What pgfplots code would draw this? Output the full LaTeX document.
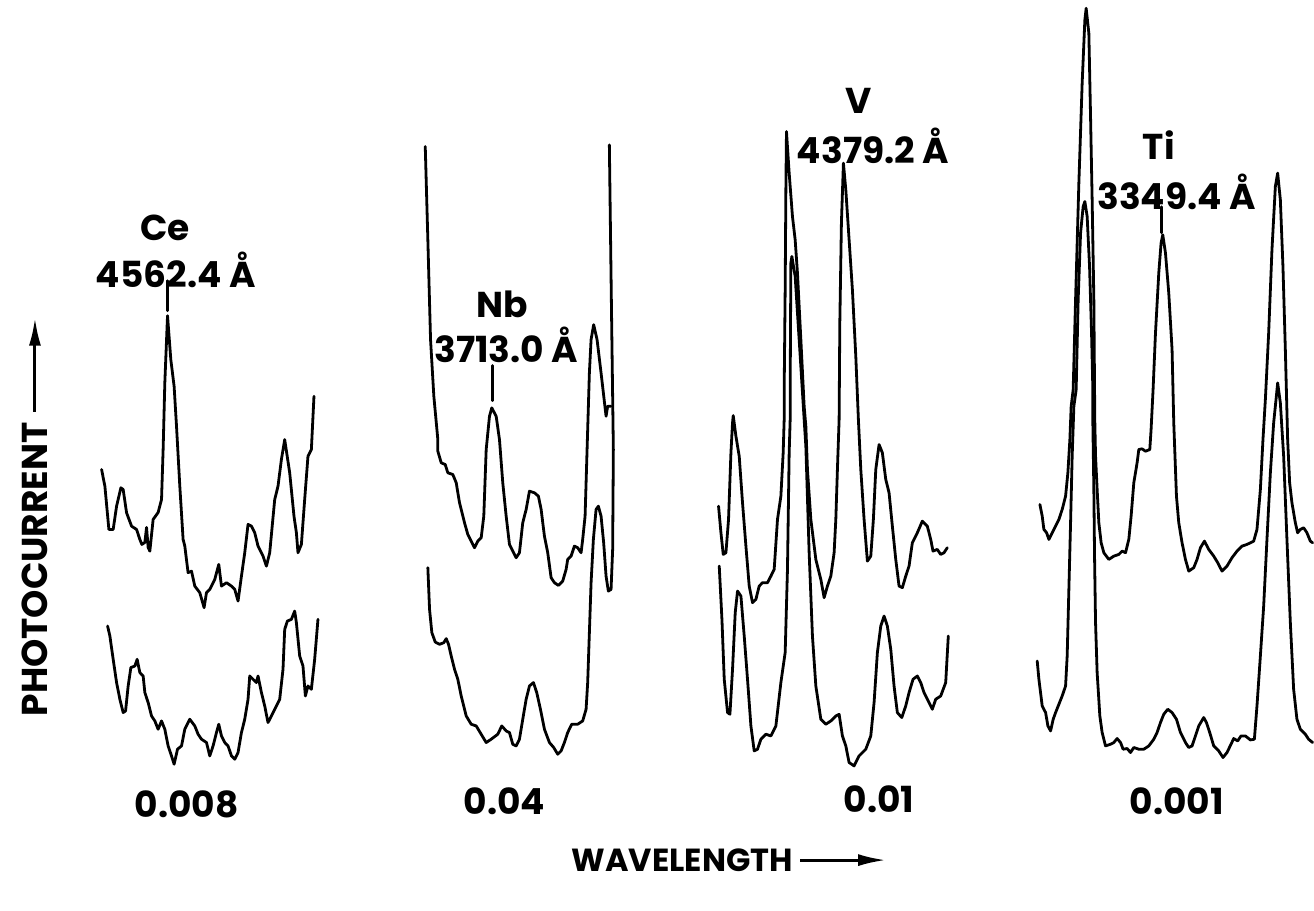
\documentclass[border=0pt]{standalone}
\usepackage{pgfplots}
\pgfplotsset{compat=1.18}
\usepackage{fontspec}
\setmainfont{Poppins}
\usetikzlibrary{arrows.meta}
\begin{document}
\begin{tikzpicture}
\begin{axis}[
  width=657pt, height=455.5pt, scale only axis,
  xmin=0, xmax=1314, ymin=0, ymax=911, y dir=reverse,
  hide axis, clip=false,
  no markers,
  every axis plot post/.append style={black, solid, mark=none, line width=1.4pt, line join=round, line cap=round},
]
% ---------- Ce panel ----------
\addplot coordinates {(101.7,470) (105,486.7) (109,530) (113.3,530) (116.7,506.7) (121,488.3) (123.3,490) (126.7,513.3) (131.7,526.7) (136.7,530) (140,540) (142,545) (145,543) (146.7,528) (148.3,548) (150,551.7) (153.3,520) (158.3,513) (161.7,500) (163.3,450) (165,383) (167.7,316) (171,360) (174.3,386.7) (176.7,426.7) (180,486.7) (183.3,540) (185,546.7) (188.3,573.3) (191.7,571.7) (195,586.7) (200,593.3) (204.3,608.3) (206.7,593.3) (210,590) (215,580) (219,565) (221.7,586.7) (226.7,583.3) (231.7,586.7) (235,590) (238.3,601.7) (241.7,576.7) (245,553.3) (248.3,525) (251.7,526.7) (255,533.3) (258.3,546.7) (263.3,556.7) (266.7,566.7) (270,553.3) (275,500) (278.3,486.7) (281.7,460) (285,440) (290,473.3) (294.3,516.7) (296.7,533.3) (298.3,553.3) (301.7,545) (305,500) (308.3,456.7) (311.7,450) (314.3,396.7)};
\addplot coordinates {(107.7,626.7) (110,636.7) (113.3,660) (116.7,683.3) (120,700) (123.3,713.3) (125.7,711.7) (128.3,686.7) (131,668.3) (135,666.7) (137.3,660) (140,673.3) (143.3,676.7) (145,693.3) (148.3,703.3) (151.7,716.7) (155,721.7) (158.3,730) (161.7,721.7) (165,730) (168.3,746.7) (171.7,756.7) (174.3,765) (177.7,750) (181.7,746.7) (185,730) (190,720) (195,726.7) (198.3,735) (201.7,740) (206.7,743.3) (210,756.7) (213.3,746.7) (216.7,733.3) (219,725) (221.7,736.7) (225,743.3) (228.3,746.7) (231.7,756.7) (235,760) (238.3,753.3) (241.7,733.3) (245,720) (248.3,700) (250,676.7) (253.3,680) (256.7,683.3) (258.3,676.7) (261.7,693.3) (265,706.7) (268.3,723.3) (271.7,716.7) (276.7,706.7) (280,700) (283.3,670) (285,630) (287.7,621.7) (291.7,620) (295,611.7) (296.7,623.3) (300,656.7) (303.3,666.7) (305.7,696.7) (308.3,686.7) (311.7,690) (315,660) (318.3,620)};
\addplot coordinates {(168,281) (168,311)};
% ---------- Nb panel ----------
\addplot coordinates {(425.7,146.7) (428.3,240) (431,340) (434.3,396.7) (438.3,440) (438.3,451.7) (441.7,463.3) (445.7,465) (448.3,473.3) (453.3,475) (456.7,483.3) (460,503.3) (465,523.3) (468.3,535) (471.7,541.7) (475,548.3) (478.3,541.7) (481.7,538.3) (484.3,516.7) (486.7,450) (490,416.7) (492.3,408.3) (496.7,416.7) (500,440) (503.3,483.3) (506.7,516.7) (510,545) (513.3,551.7) (516.7,558.3) (520,553.3) (523.3,523.3) (526.7,510) (530,491.7) (535,493.3) (539,496.7) (541.7,510) (545,536.7) (548.3,553.3) (551.7,578.3) (555,583.3) (559,586) (563.3,581.7) (566.7,570) (568.3,560) (571.7,556.7) (575,546.7) (578.3,548.3) (581.7,553.3) (583.3,540) (585.7,516.7) (587.7,450) (590,373.3) (591.7,340) (594.3,325) (597.7,340) (601.7,373.3) (606.7,416.7) (608.3,406.7) (611.7,406.7)};
\addplot coordinates {(428.3,568.3) (430,610) (432.3,633.3) (435.7,642.7) (440,645) (444.3,643.3) (446.7,639.3) (449,645) (451.7,656.7) (455,670) (458.3,680) (461.7,696.7) (466.7,716.7) (471.7,725) (476.7,726.7) (481.7,735) (486.7,743.3) (491.7,740) (498.3,735) (502.3,726.7) (506.7,731.7) (510,733.3) (513.3,745) (516.7,746.7) (520,740) (523.3,720) (526.7,700) (530,686.7) (534,683.3) (537.3,693.3) (541,710) (545,730) (550,743.3) (554.3,748.3) (558.3,755) (561.7,751.7) (565,743.3) (568.3,733.3) (572.3,725) (578.3,725) (583.3,721.7) (586.7,710) (588.3,683.3) (590,633.3) (591.7,583.3) (594,540) (596.7,510) (599,506.7) (601.7,516.7) (604.3,543.3) (606.7,576.7) (609,591.7) (611.7,590) (613.3,550) (614,450) (612,300) (610,145)};
\addplot coordinates {(493,366) (493,401)};
% ---------- V panel ----------
\addplot coordinates {(719.3,506.7) (721.7,533.3) (724,555) (726.7,553.3) (729.3,520) (731.7,453.3) (733.3,423.3) (734,416) (736.7,436.7) (740,456.7) (743.3,503.3) (746.7,546.7) (750,586.7) (753.3,603.3) (756.7,600) (760,586.7) (763.3,583.3) (768.3,583.3) (771.7,576.7) (775,570) (778.3,520) (781.7,496.7) (784,453.3) (785,420) (785,390) (786,290) (786.7,190) (787.3,131.7) (790,173.3) (793.3,216.7) (796,240) (798.3,273.3) (801.7,340) (805,406.7) (806.7,426.7) (808.3,470) (811.7,520) (816.7,560) (821.7,580) (825,598.3) (828.3,586.7) (831.7,576.7) (835,553.3) (836.7,520) (838.3,470) (840,420) (840.7,323.3) (842.3,223.3) (844.3,163.3) (846.7,190) (850,240) (853.3,290) (856.7,356.7) (859.3,420) (861.7,470) (865,520) (868.3,561.7) (871.7,556.7) (874.3,520) (876.7,470) (880,445) (883.3,453.3) (886.7,480) (890,493.3) (893.3,526.7) (896.7,560) (900,586.7) (903.3,588.3) (906.7,576.7) (910,566.7) (913.3,543.3) (918.3,533.3) (923.3,521.7) (928.3,526.7) (931.7,540) (934,551.7) (938.3,550) (941.7,555) (945,553.3) (948.3,548.3)};
\addplot coordinates {(720,566.7) (722.7,620) (725,680) (728.3,713.3) (730.7,715) (733.3,670) (736,613.3) (738.3,591.7) (741.7,596.7) (745,636.7) (748.3,680) (751.7,726.7) (755,751.7) (758.3,750) (761.7,740) (766.7,735) (771.7,736.7) (776.7,726.7) (781.7,683.3) (786,653.3) (788.3,570) (790,453.3) (791,420) (791,390) (791.7,263.3) (792.7,256.7) (796,276.7) (800,340) (805,420) (806.7,446.7) (810,553.3) (813.3,636.7) (816.7,686.7) (821.7,720) (826.7,725) (831.7,721.7) (836.7,716.7) (840,715) (843.3,736.7) (846.7,746.7) (850,763.3) (855,766.7) (860,756.7) (866.7,750) (871.7,736.7) (875,703.3) (878.3,653.3) (881.7,626.7) (885,616.7) (888.3,626.7) (891.7,650) (895,686.7) (898.3,713.3) (902.7,718.3) (906.7,706.7) (910,693.3) (914,680) (918.3,676.7) (921.7,683.3) (925,693.3) (930,703.3) (933.3,710) (936.7,700) (941.7,696.7) (946.7,683.3) (949.3,636.7)};
% ---------- Ti panel ----------
\addplot coordinates {(1041,505) (1043.3,516.7) (1045,530) (1047.7,533.3) (1050,540) (1053.3,533.3) (1056.7,526.7) (1060,520) (1063.3,510) (1066.7,496.7) (1069,473.3) (1071,440) (1072.3,406.7) (1074.3,390) (1076.7,300) (1080,183.3) (1083.3,83.3) (1086,20) (1087.3,8.3) (1090,33.3) (1091.7,116.7) (1093.3,200) (1095,300) (1095.7,390) (1096,423.3) (1096.7,456.7) (1098.3,490) (1100,523.3) (1102.3,543.3) (1105,553.3) (1110,560) (1115,556.7) (1120,555) (1123.3,551.7) (1126.7,553.3) (1130,540) (1132.3,516.7) (1135,483.3) (1138.3,463.3) (1140,450) (1143.3,449.3) (1146.7,451.7) (1151,450) (1152.3,430) (1154.3,390) (1156.7,333.3) (1160,273.3) (1162.3,243.3) (1164,235) (1166.7,253.3) (1170,293.3) (1173.3,350) (1175,423.3) (1177.7,496.7) (1180,523.3) (1183.3,543.3) (1186.7,560) (1190,571.7) (1195,568.3) (1198.3,560) (1201.7,548.3) (1205.7,541.7) (1210,550) (1215,556.7) (1219,563.3) (1223.3,571.7) (1228.3,566.7) (1233.3,558.3) (1238.3,551.7) (1243.3,546.7) (1248.3,545) (1255,541.7) (1258.3,530) (1261.7,490) (1264.3,440) (1266.7,400) (1270,333.3) (1273.3,250) (1276.7,186.7) (1279,173.3) (1281.7,200) (1284.3,266.7) (1286.7,350) (1289,440) (1291,483.3) (1293.3,503.3) (1296.7,523.3) (1299,533.3) (1301.7,530) (1305,528.3) (1308.3,533.3) (1311.7,541.7) (1314,543.3)};
\addplot coordinates {(1038.3,661.7) (1040,680) (1043.3,706.7) (1046.7,713.3) (1049,726.7) (1051.7,731.7) (1054.3,720) (1056.7,713.3) (1060,705) (1063.3,696.7) (1066.7,686.7) (1068.3,656.7) (1070,590) (1071.7,523.3) (1073.3,456.7) (1075,406.7) (1077.3,390) (1079.3,300) (1081.7,233.3) (1084.3,206.7) (1086,201.7) (1088.3,216.7) (1090.7,266.7) (1092.7,333.3) (1094,390) (1094,423.3) (1095,490) (1095.7,556.7) (1096.7,623.3) (1098.3,673.3) (1101,716.7) (1103.3,733.3) (1106.7,746.7) (1111.7,745) (1115,743.3) (1118.3,739.3) (1121.7,743.3) (1124.3,750) (1128.3,749.3) (1131.7,753.3) (1135,748.3) (1140,750) (1145,750) (1150,746.7) (1155,740) (1158.3,733.3) (1161.7,723.3) (1165,715) (1169,710) (1173.3,713.3) (1177.7,720) (1181.7,733.3) (1186.7,743.3) (1190,748.3) (1193.3,746.7) (1196.7,736.7) (1200,726.7) (1205,718.3) (1207.7,723.3) (1211,733.3) (1215,746.7) (1220,751.7) (1224.3,758.3) (1228.3,753.3) (1232.3,745) (1235,739.3) (1239,741.7) (1242.3,736.7) (1246.7,736.7) (1251.7,740.7) (1255.7,740) (1258.3,706.7) (1261.7,656.7) (1265,606.7) (1268.3,540) (1271.7,473.3) (1275,423.3) (1277.7,396.7) (1279,383.3) (1281.7,403.3) (1285,456.7) (1288.3,540) (1291.7,623.3) (1295,690) (1298.3,720) (1301.7,730) (1306.7,735) (1310,740) (1314,743.3)};
\addplot coordinates {(1163,207) (1163,233)};
% ---------- labels ----------
\begin{scope}[every node/.style={font=\fontsize{18}{20}\selectfont\bfseries, inner sep=0pt}]
\node at (axis cs:165,228) {Ce};
\node at (axis cs:176,270) {4562.4 Å};
\node at (axis cs:503,305) {Nb};
\node at (axis cs:507,345) {3713.0 Å};
\node at (axis cs:860,101) {V};
\node at (axis cs:874,146) {4379.2 Å};
\node at (axis cs:1160,145) {Ti};
\node at (axis cs:1178,192) {3349.4 Å};
\node at (axis cs:187,805) {0.008};
\node at (axis cs:505,802) {0.04};
\node at (axis cs:880,800) {0.01};
\node at (axis cs:1178,802) {0.001};
\node[font=\fontsize{16}{18}\selectfont\bfseries] at (axis cs:683,861) {WAVELENGTH};
\node[rotate=90, font=\fontsize{18}{20}\selectfont\bfseries] at (axis cs:35,570) {PHOTOCURRENT};
\end{scope}
\draw[line width=1.5pt, -{Latex[length=14pt,width=6pt]}] (axis cs:801,861) -- (axis cs:887,861);
\draw[line width=1.5pt, -{Latex[length=14pt,width=6pt]}] (axis cs:35,412) -- (axis cs:35,318);
\end{axis}
\path (current axis.south west) rectangle (current axis.north east);
\end{tikzpicture}
\end{document}
